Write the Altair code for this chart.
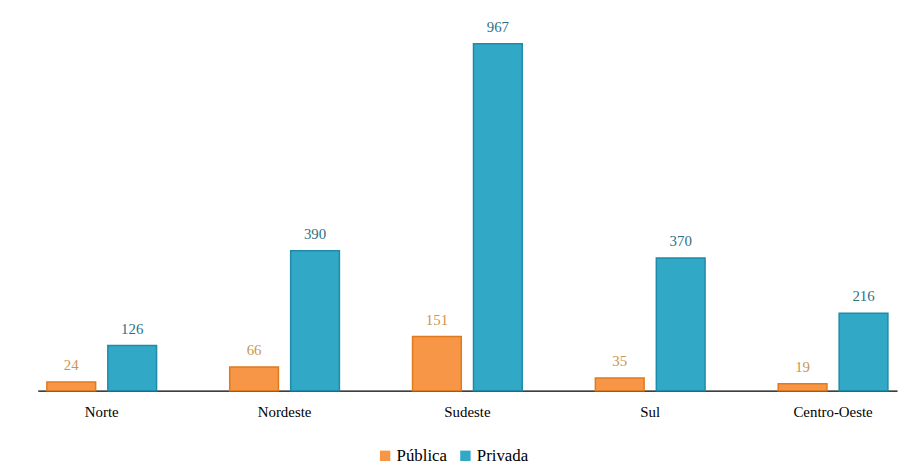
import altair as alt
import pandas as pd

regions = ["Norte", "Nordeste", "Sudeste", "Sul", "Centro-Oeste"]
publica = [24, 66, 151, 35, 19]
privada = [126, 390, 967, 370, 216]
series = ["Pública", "Privada"]

rows = []
for r, a, b in zip(regions, publica, privada):
    rows.append({"Região": r, "Tipo": "Pública", "Valor": a})
    rows.append({"Região": r, "Tipo": "Privada", "Valor": b})
df = pd.DataFrame(rows)

fills = ["#F79646", "#31A8C6"]
strokes = ["#E07A1F", "#1F8BA8"]
label_cols = ["#C99652", "#2D7086"]

SERIF = "Liberation Serif"

x = alt.X("Região:N", sort=regions, title=None,
          scale=alt.Scale(paddingInner=0.4, paddingOuter=0.05),
          axis=alt.Axis(labelAngle=0, ticks=False, domainColor="#000000", domainWidth=1.2,
                        labelFont=SERIF, labelFontSize=15, labelColor="#000000",
                        labelPadding=14))
xo = alt.XOffset("Tipo:N", sort=series, scale=alt.Scale(paddingInner=0.2))
y = alt.Y("Valor:Q", scale=alt.Scale(domain=[0, 1000]), axis=None)

base = alt.Chart(df)

bars = base.mark_bar(strokeWidth=1.5).encode(
    x=x, xOffset=xo, y=y,
    color=alt.Color("Tipo:N", sort=series,
                    scale=alt.Scale(domain=series, range=fills),
                    legend=alt.Legend(title=None, orient="none", direction="horizontal",
                                      legendX=342, legendY=419, symbolType="square",
                                      symbolSize=110, symbolStrokeWidth=0,
                                      labelFont=SERIF, labelFontSize=17,
                                      labelColor="#000000", columnPadding=10, labelOffset=3)),
    stroke=alt.Stroke("Tipo:N", sort=series,
                      scale=alt.Scale(domain=series, range=strokes), legend=None),
)

labels = base.mark_text(baseline="bottom", dy=-9, font=SERIF, fontSize=15).encode(
    x=x, xOffset=xo, y=y,
    text=alt.Text("Valor:Q"),
    color=alt.Color("Tipo:N", sort=series,
                    scale=alt.Scale(domain=series, range=label_cols), legend=None),
)

chart = alt.layer(bars, labels).resolve_scale(color="independent").properties(
    width=867, height=362,
    padding={"left": 30, "top": 22, "right": 5, "bottom": 78},
    autosize=alt.AutoSizeParams(type="none"),
    background="#ffffff",
).configure(font=SERIF).configure_view(stroke=None, strokeWidth=0).configure_legend(
    labelFont=SERIF, labelFontSize=17, labelColor="#000000"
)

chart.save("out.html", embed_options={"renderer": "svg", "actions": False})
